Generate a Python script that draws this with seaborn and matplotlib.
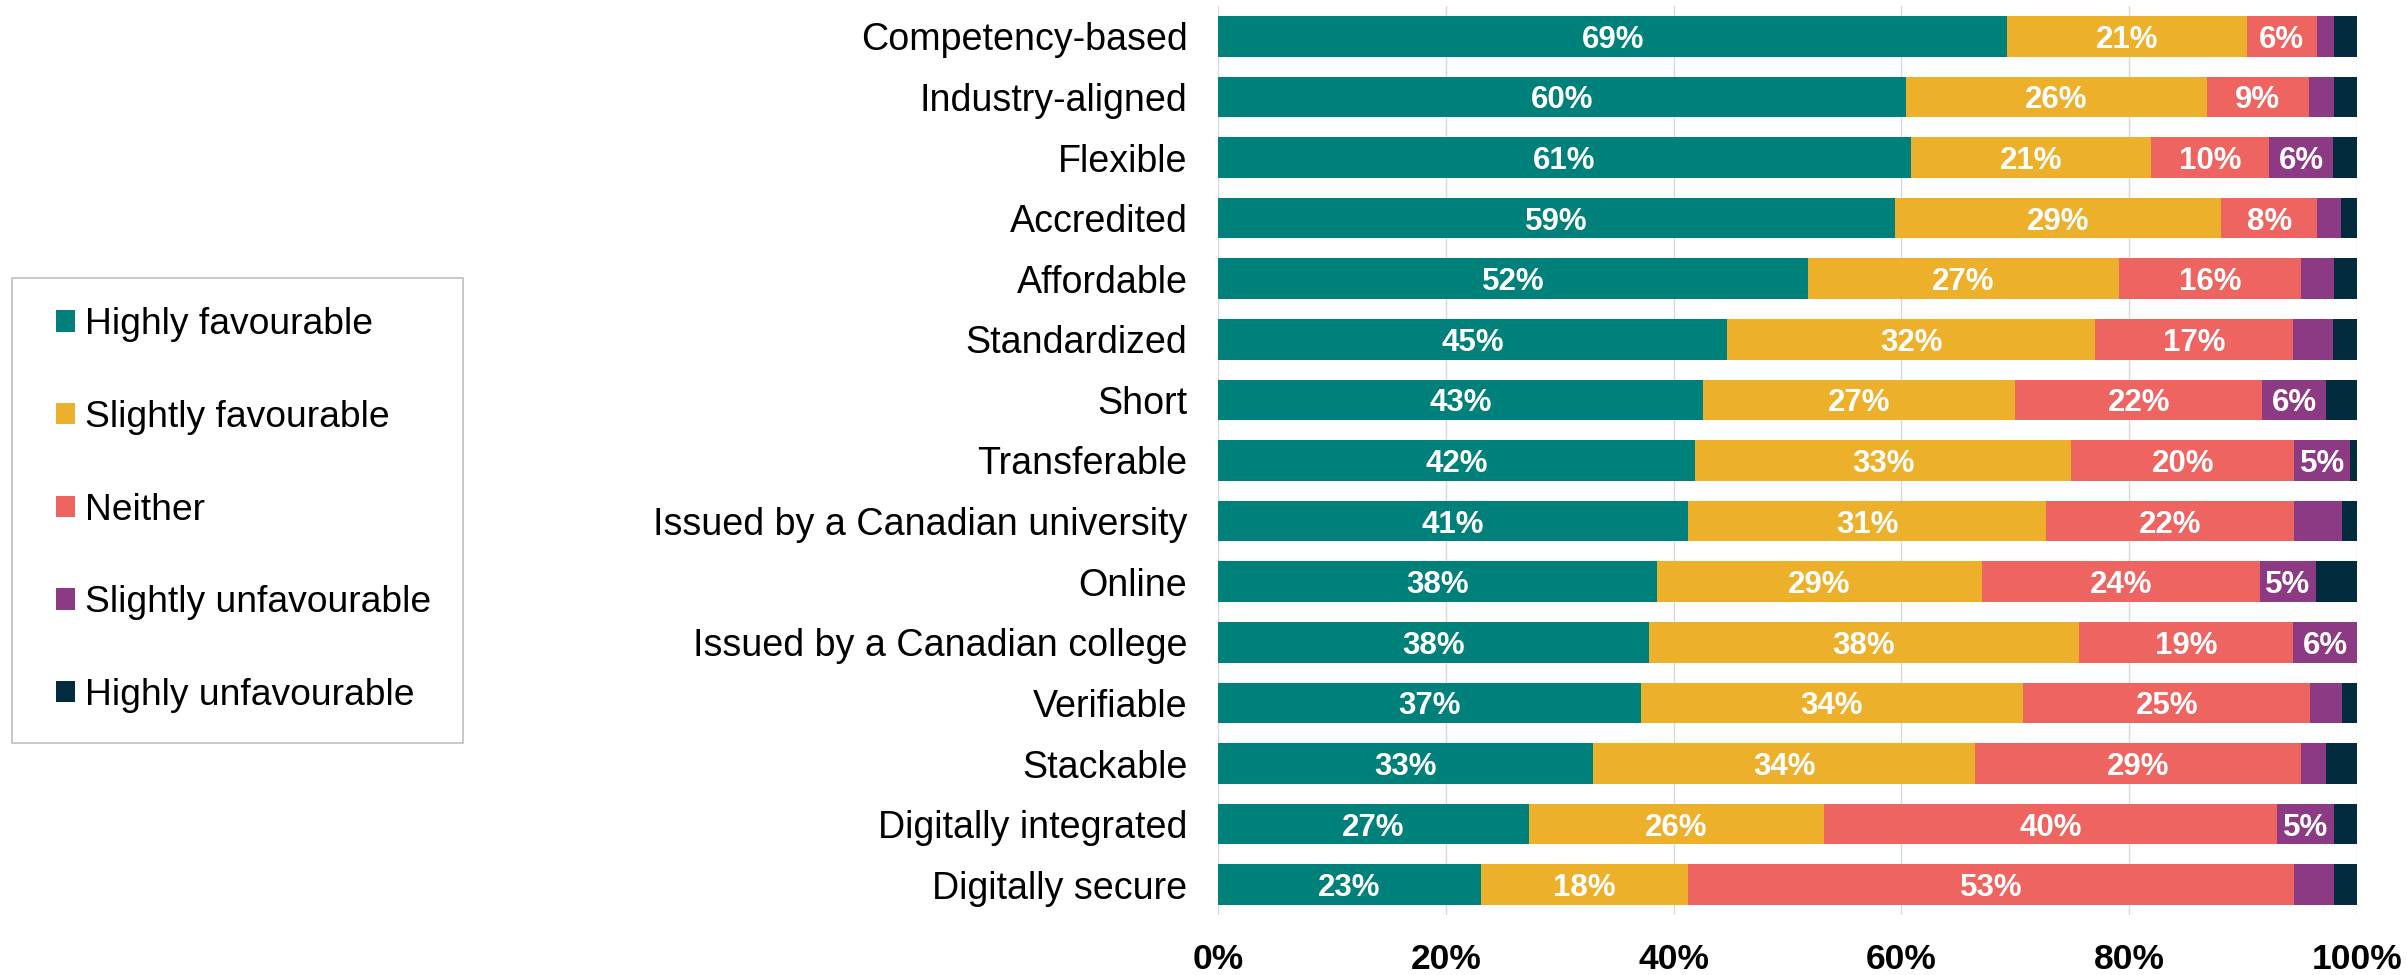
import numpy as np
import pandas as pd
import matplotlib
matplotlib.use("Agg")
import matplotlib.pyplot as plt
from matplotlib.patches import Patch, Rectangle
import seaborn as sns

# Credential attributes and share of respondents (%) per rating level
categories = [
    "Competency-based", "Industry-aligned", "Flexible", "Accredited", "Affordable",
    "Standardized", "Short", "Transferable", "Issued by a Canadian university",
    "Online", "Issued by a Canadian college", "Verifiable", "Stackable",
    "Digitally integrated", "Digitally secure",
]
highly_fav = [69.3, 60.4, 60.8, 59.4, 51.8, 44.7, 42.6, 41.9, 41.3, 38.5, 37.8, 37.1, 32.9, 27.3, 23.1]
slightly_fav = [21.0, 26.4, 21.1, 28.7, 27.3, 32.3, 27.4, 33.0, 31.4, 28.6, 37.8, 33.6, 33.6, 25.9, 18.2]
neither = [6.2, 9.0, 10.4, 8.4, 16.0, 17.4, 21.7, 19.6, 21.8, 24.4, 18.8, 25.2, 28.6, 39.8, 53.2]
slightly_unfav = [1.45, 2.15, 5.6, 2.1, 2.9, 3.5, 5.6, 4.9, 4.2, 4.9, 5.6, 2.8, 2.2, 5.0, 3.5]
highly_unfav = [2.05, 2.05, 2.1, 1.4, 2.0, 2.1, 2.7, 0.6, 1.3, 3.6, 0.0, 1.3, 2.7, 2.0, 2.0]

series_names = ["Highly favourable", "Slightly favourable", "Neither",
                "Slightly unfavourable", "Highly unfavourable"]
series_colors = ["#00807B", "#EDB02B", "#EE6461", "#8D3A84", "#022B3E"]
x_ticks = [0, 20, 40, 60, 80, 100]
x_tick_labels = ["0%", "20%", "40%", "60%", "80%", "100%"]

df = pd.DataFrame({
    "attribute": categories,
    series_names[0]: highly_fav,
    series_names[1]: slightly_fav,
    series_names[2]: neither,
    series_names[3]: slightly_unfav,
    series_names[4]: highly_unfav,
})
values = df[series_names].to_numpy()
cumulative = np.cumsum(values, axis=1)

sns.set_theme(style="white")
plt.rcParams["font.family"] = ["Liberation Sans", "DejaVu Sans"]

W, H = 2407, 975
fig = plt.figure(figsize=(W / 100, H / 100), dpi=100)
ax = fig.add_axes([1218 / W, 1 - 915 / H, (2357 - 1218) / W, (915 - 6) / H])

# Stacked bars: draw the running totals from the outermost layer inward
for j in range(len(series_names) - 1, -1, -1):
    sns.barplot(x=cumulative[:, j], y=df["attribute"], orient="h",
                color=series_colors[j], saturation=1, width=0.667,
                linewidth=0, ax=ax, zorder=2)

# Value labels centred on each visible segment
for i in range(len(categories)):
    left = 0.0
    for j in range(len(series_names)):
        v = values[i, j]
        if round(v) >= 5:
            ax.text(left + v / 2, i, f"{v:.0f}%", ha="center", va="center_baseline",
                    color="white", fontsize=22.5, fontweight="bold", zorder=3)
        left += v

ax.set_xlim(0, 100)
ax.set_ylim(len(categories) - 0.5, -0.5)
ax.set_xticks(x_ticks)
ax.set_xticklabels(x_tick_labels, fontsize=25.5, fontweight="bold", color="black")
ax.tick_params(axis="x", length=0, pad=20)
ax.tick_params(axis="y", length=0, pad=22, labelsize=27.1, labelcolor="black")
ax.set_xlabel("")
ax.set_ylabel("")
ax.grid(axis="x", color="#d9d9d9", linewidth=1.0, zorder=0)
ax.grid(axis="y", visible=False)
ax.set_axisbelow(True)
for s in ax.spines.values():
    s.set_visible(False)

# Legend with a plain grey frame
fig.patches.append(Rectangle((12 / W, 1 - 743 / H), (463 - 12) / W, (743 - 278) / H,
                             transform=fig.transFigure, facecolor="white",
                             edgecolor="#bfbfbf", linewidth=1.2, zorder=0))
handles = [Patch(facecolor=c, edgecolor="none") for c in series_colors]
leg = fig.legend(handles, series_names, loc="center left",
                 bbox_to_anchor=(56 / W, 1 - 510 / H), frameon=False,
                 fontsize=26.8, handlelength=0.51, handleheight=0.51,
                 handletextpad=0.27, labelspacing=1.55, borderpad=0,
                 borderaxespad=0)
for t in leg.get_texts():
    t.set_color("black")

fig.savefig("out.png", dpi=100, facecolor="white")
